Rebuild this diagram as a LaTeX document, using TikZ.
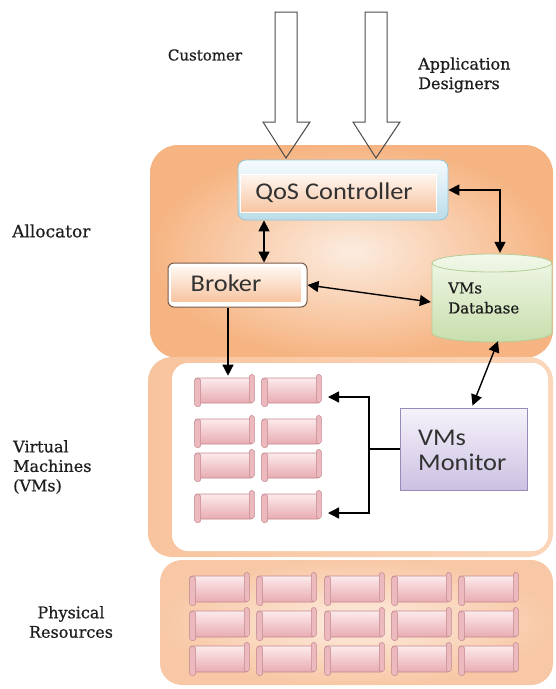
\documentclass[tikz,border=0pt]{standalone}
\usepackage{fontspec}
\usetikzlibrary{arrows.meta,calc}
\newfontfamily\lblfont[RawFeature={embolden=0.7}]{DejaVu Serif}
\newfontfamily\sffont[FakeStretch=1.1]{Carlito}
\definecolor{allocin}{RGB}{252,236,224}
\definecolor{allocout}{RGB}{246,180,130}
\definecolor{vmedgeA}{RGB}{248,196,158}
\definecolor{vmedgeB}{RGB}{251,214,186}
\definecolor{phin}{RGB}{253,236,224}
\definecolor{phout}{RGB}{248,200,166}
\definecolor{blktop}{RGB}{252,234,236}
\definecolor{blkbot}{RGB}{232,172,178}
\definecolor{blkdraw}{RGB}{196,136,142}
\definecolor{capfill}{RGB}{236,186,190}
\definecolor{qostop}{RGB}{246,251,253}
\definecolor{qosbot}{RGB}{186,220,232}
\definecolor{qosdraw}{RGB}{150,196,214}
\definecolor{peachtop}{RGB}{255,246,240}
\definecolor{peachbot}{RGB}{247,196,160}
\definecolor{brkdraw}{RGB}{120,90,72}
\definecolor{dbtop}{RGB}{242,248,234}
\definecolor{dbbot}{RGB}{200,222,172}
\definecolor{dbdraw}{RGB}{180,204,150}
\definecolor{montop}{RGB}{246,243,251}
\definecolor{monbot}{RGB}{204,192,226}
\definecolor{mondraw}{RGB}{150,140,184}
\definecolor{txt}{RGB}{30,30,30}
\definecolor{sftxt}{RGB}{50,50,50}
\begin{document}
\begin{tikzpicture}[x=1pt,y=-1pt,
  lbl/.style={font=\lblfont\fontsize{16}{19.5}\selectfont, text=txt, inner sep=0pt},
  sflbl/.style={font=\sffont\fontsize{24}{25}\selectfont, text=sftxt, inner sep=0pt},
  blk/.style={draw=blkdraw, line width=0.6pt, top color=blktop, bottom color=blkbot,
     minimum width=58, minimum height=25, inner sep=0pt, rounded corners=2},
  capbox/.style={draw=blkdraw, line width=0.5pt, fill=capfill, rounded corners=1.5},
  arr/.style={-{Triangle[length=11pt,width=11pt]}, line width=1.4pt, black},
  biarr/.style={{Triangle[length=11pt,width=11pt]}-{Triangle[length=11pt,width=11pt]}, line width=1.4pt, black},
  blockarrow/.style={draw=black!70, line width=1pt}
]
\useasboundingbox (0,0) rectangle (555,689);
\fill[white] (0,0) rectangle (555,689);

% ---------- panels ----------
\shade[rounded corners=28pt, inner color=allocin, outer color=allocout] (150,145) rectangle (553,358);
\shade[rounded corners=24pt, left color=vmedgeA, right color=vmedgeB] (148,357) rectangle (553,557);
\fill[white, rounded corners=16pt] (172,363) rectangle (548,551);
\shade[rounded corners=22pt, inner color=phin, outer color=phout] (160,560) rectangle (553,685);

% ---------- side labels ----------
\node[lbl, anchor=west, font=\lblfont\fontsize{17}{19.5}\selectfont] (alloc) at (12,231) {Allocator};
\node[lbl, anchor=west, align=left] (vml) at (13,467) {Virtual\\Machines\\(VMs)};
\node[lbl, align=center] (phys) at (71,622) {Physical\\Resources};
\node[lbl, font=\lblfont\fontsize{15}{19}\selectfont] (cust) at (205,55) {Customer};
\node[lbl, anchor=west, align=left] (appd) at (418,75) {Application\\Designers};

% ---------- QoS controller ----------
\node[draw=qosdraw, line width=0.8pt, top color=qostop, bottom color=qosbot,
      rounded corners=8, minimum width=210, minimum height=60, inner sep=0pt] (qos) at (343,190) {};
\shade[top color=peachtop, bottom color=peachbot, draw=white, line width=0.8pt]
  ($(qos.north west)+(3,15)$) rectangle ($(qos.south east)+(-12,-8)$);
\node[sflbl] (qost) at (334,193) {QoS Controller};

% ---------- block arrows ----------
\draw[blockarrow] (275,12) -- (297,12) -- (297,122) -- (310,122) -- (286,158) -- (263,122) -- (275,122) -- cycle;
\draw[blockarrow] (365,12) -- (387,12) -- (387,122) -- (400,122) -- (376,158) -- (353,122) -- (365,122) -- cycle;

% ---------- Broker ----------
\node[draw=brkdraw, line width=1pt, fill=white, rounded corners=6,
      minimum width=139, minimum height=44, inner sep=0pt] (brk) at (237.5,285) {};
\shade[top color=peachtop, bottom color=peachbot]
  ($(brk.north west)+(4,5)$) rectangle ($(brk.south east)+(-7,-6)$);
\node[sflbl] (brkt) at (226,283) {Broker};

% ---------- VMs Database ----------
\node[minimum width=120, minimum height=88, inner sep=0pt] (db) at (492,298) {};
\shade[top color=dbtop, bottom color=dbbot, draw=dbdraw, line width=0.8pt]
  (432,263) -- (432,333) arc[start angle=180, end angle=0, x radius=60, y radius=9]
  -- (552,263) arc[start angle=0, end angle=-180, x radius=60, y radius=9] -- cycle;
\draw[dbdraw, line width=0.8pt] (432,263) arc[start angle=180, end angle=0, x radius=60, y radius=9];
\node[lbl, anchor=west, align=left, font=\lblfont\fontsize{15}{20}\selectfont] (dbt) at (448,298) {VMs\\Database};

% ---------- VMs Monitor ----------
\node[draw=mondraw, line width=0.8pt, top color=montop, bottom color=monbot,
      minimum width=127, minimum height=82, inner sep=0pt] (mon) at (463.5,449) {};
\node[sflbl, anchor=west, align=left] (mont) at (418,450) {VMs\\Monitor};

% ---------- VM blocks ----------
\foreach \c/\x in {1/195,2/262}{
  \foreach \r/\y in {1/378,2/419,3/453,4/494}{
    \node[blk] (vm\r\c) at (\x+29,\y+12.5) {};
    \draw[capbox] ($(vm\r\c.north west)+(0,1)$) rectangle ($(vm\r\c.south west)+(6,3)$);
    \draw[capbox] ($(vm\r\c.north east)+(-4,-3)$) rectangle ($(vm\r\c.south east)+(1,-1)$);
  }
}
% ---------- physical blocks ----------
\foreach \c/\x in {1/190,2/257,3/325,4/392,5/459}{
  \foreach \r/\y in {1/576,2/611,3/646}{
    \node[blk, minimum height=26] (pr\r\c) at (\x+29,\y+13) {};
    \draw[capbox] ($(pr\r\c.north west)+(0,1)$) rectangle ($(pr\r\c.south west)+(6,3)$);
    \draw[capbox] ($(pr\r\c.north east)+(-4,-3)$) rectangle ($(pr\r\c.south east)+(1,-1)$);
  }
}

% ---------- connectors ----------
\coordinate (xa) at (264,0);
\draw[biarr] (qos.south -| xa) -- (brk.north -| xa);
\coordinate (xd) at (500,0);
\draw[biarr] (qos.east) -| ($(db.north -| xd)+(0,-1)$);
\draw[biarr] (brk.east) -- ($(db.west)+(-1,4)$);
\coordinate (xb) at (228,0);
\draw[arr] (brk.south -| xb) -- ($(vm11.north -| xb)+(0,-2)$);
\draw[biarr] ($(db.south)+(6,-1)$) -- ($(mon.north)+(9,-2)$);
\coordinate (j) at (369,449);
\coordinate (ta) at (328,397);
\coordinate (tb) at (328,513);
\draw[line width=1.4pt] (mon.west) -- (j);
\draw[arr] (j) |- (ta);
\draw[arr] (j) |- (tb);
\end{tikzpicture}
\end{document}
